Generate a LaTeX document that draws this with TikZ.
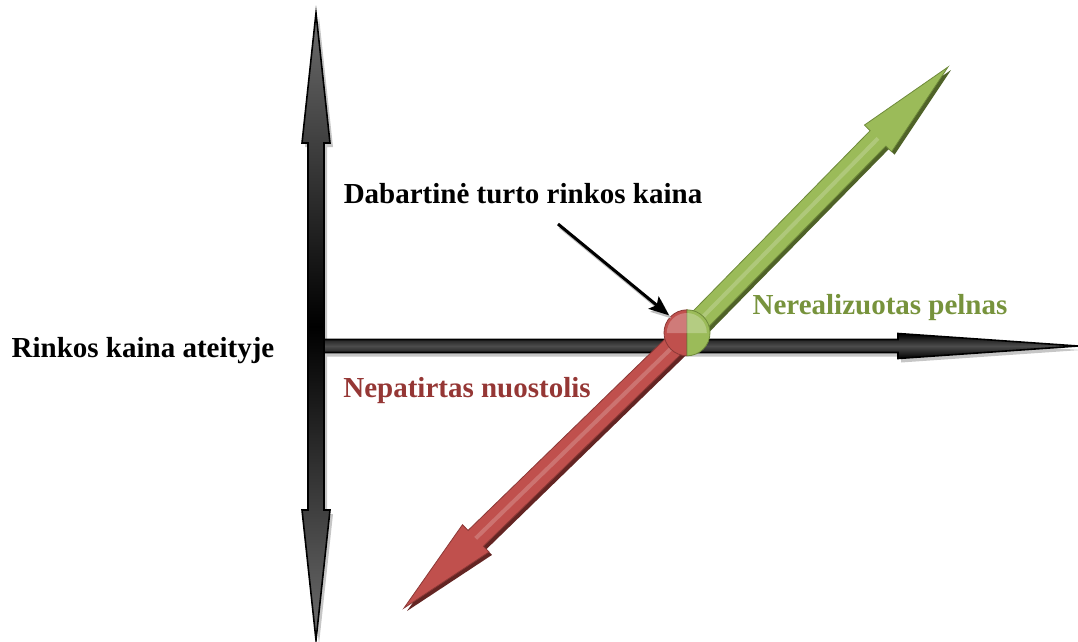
\documentclass[tikz,border=0pt]{standalone}
\usepackage{fontspec}
\setmainfont{Liberation Serif}
\usetikzlibrary{calc,arrows.meta,shadows}

\definecolor{pelnas}{HTML}{9BBB59}
\definecolor{pelnasdark}{HTML}{6E8A3A}
\definecolor{pelnasshadow}{HTML}{4F6228}
\definecolor{pelnastext}{HTML}{77933C}
\definecolor{nuostolis}{HTML}{C0504D}
\definecolor{nuostolisdark}{HTML}{8C3836}
\definecolor{nuostolisshadow}{HTML}{632523}
\definecolor{nuostolistext}{HTML}{953735}

% storas rodyklės kūnas: #1 stilius, #2 pradžia, #3 smaigalys,
% #4 pusė kotelio pločio, #5 pusė galvutės pločio, #6 galvutės ilgis
\newcommand{\fatarrow}[6]{%
  \coordinate (hb) at ($(#3)!#6!(#2)$);
  \path[#1] ($(#2)!#4!90:(#3)$) -- ($(hb)!#4!90:(#3)$) -- ($(hb)!#5!90:(#3)$)
    -- (#3) -- ($(hb)!#5!-90:(#3)$) -- ($(hb)!#4!-90:(#3)$)
    -- ($(#2)!#4!-90:(#3)$) -- cycle;
}
% dvipusė rodyklė
\newcommand{\dblarrow}[6]{%
  \coordinate (ha) at ($(#2)!#6!(#3)$);
  \coordinate (hb) at ($(#3)!#6!(#2)$);
  \path[#1] (#2) -- ($(ha)!#5!90:(#3)$) -- ($(ha)!#4!90:(#3)$)
    -- ($(hb)!#4!90:(#3)$) -- ($(hb)!#5!90:(#3)$) -- (#3)
    -- ($(hb)!#5!-90:(#3)$) -- ($(hb)!#4!-90:(#3)$)
    -- ($(ha)!#4!-90:(#3)$) -- ($(ha)!#5!-90:(#3)$) -- cycle;
}

\begin{document}
\begin{tikzpicture}[
    x=1pt, y=-1pt,
    label text/.style={font=\bfseries\fontsize{29}{34}\selectfont, inner sep=0pt},
    axis arrow/.style={draw=black, line width=1.6pt, line join=miter,
      drop shadow={shadow xshift=3pt, shadow yshift=-4pt, fill=gray!45, opacity=1}},
    gain arrow/.style={fill=pelnas, draw=pelnasdark, line width=0.8pt,
      drop shadow={shadow xshift=3pt, shadow yshift=-3pt, fill=pelnasshadow, opacity=1}},
    loss arrow/.style={fill=nuostolis, draw=nuostolisdark, line width=0.8pt,
      drop shadow={shadow xshift=3pt, shadow yshift=-3pt, fill=nuostolisshadow, opacity=1}},
    pointer/.style={line width=3pt, -{Stealth[length=20pt, width=16pt, inset=4pt]},
      shorten >=2pt}
  ]
    \useasboundingbox (0,0) rectangle (1078,641);

    % 1. Taškai
    \coordinate (top) at (316,13);
    \coordinate (bottom) at (316,640);
    \coordinate (left) at (324,346);
    \coordinate (right) at (1078,346);
    \coordinate (center) at (687,333);
    \coordinate (gain) at (948,67);
    \coordinate (loss) at (404,608);
    \coordinate (tail) at (558,224);

    % 2. Ašys
    \dblarrow{axis arrow, top color=gray!85!black, bottom color=gray!85!black,
      middle color=black}{top}{bottom}{8pt}{14pt}{130pt}
    \fatarrow{axis arrow, top color=black, bottom color=black,
      middle color=gray!60!black}{left}{right}{6.5pt}{12.5pt}{180pt}

    % 3. Pelnas ir nuostolis
    \fatarrow{gain arrow}{center}{gain}{11pt}{19pt}{100pt}
    \fatarrow{loss arrow}{center}{loss}{11pt}{19pt}{100pt}
    \draw[pelnas!60!white, line width=4pt, opacity=.5] (center) -- ($(gain)!100pt!(center)$);
    \draw[nuostolis!60!white, line width=4pt, opacity=.5] (center) -- ($(loss)!100pt!(center)$);

    % 4. Dabartinė kaina
    \node[circle, minimum size=46pt, inner sep=0pt] (price) at (center) {};
    \filldraw[fill=nuostolis, draw=nuostolisdark, line width=0.8pt]
      (price.north) arc[start angle=90, end angle=270, radius=23pt] -- cycle;
    \filldraw[fill=pelnas, draw=pelnasdark, line width=0.8pt]
      (price.north) arc[start angle=90, end angle=-90, radius=23pt] -- cycle;
    \fill[white, opacity=.25] ($(price.west)+(3,0)$) arc[start angle=180, end angle=0, radius=20pt] -- cycle;
    \draw[gray!50, pointer] ($(tail)+(2,3)$) -- ($(price.north west)+(2,3)$);
    \draw[pointer] (tail) -- (price.north west);

    % 5. Užrašai
    \node[label text, anchor=base] (current) at (523,203) {Dabartinė turto rinkos kaina};
    \node[label text, anchor=base] (future) at (143,357) {Rinkos kaina ateityje};
    \node[label text, anchor=base, text=pelnastext] (gaintext) at (880,314) {Nerealizuotas pelnas};
    \node[label text, anchor=base, text=nuostolistext] (losstext) at (467,397) {Nepatirtas nuostolis};

  \end{tikzpicture}
\end{document}
